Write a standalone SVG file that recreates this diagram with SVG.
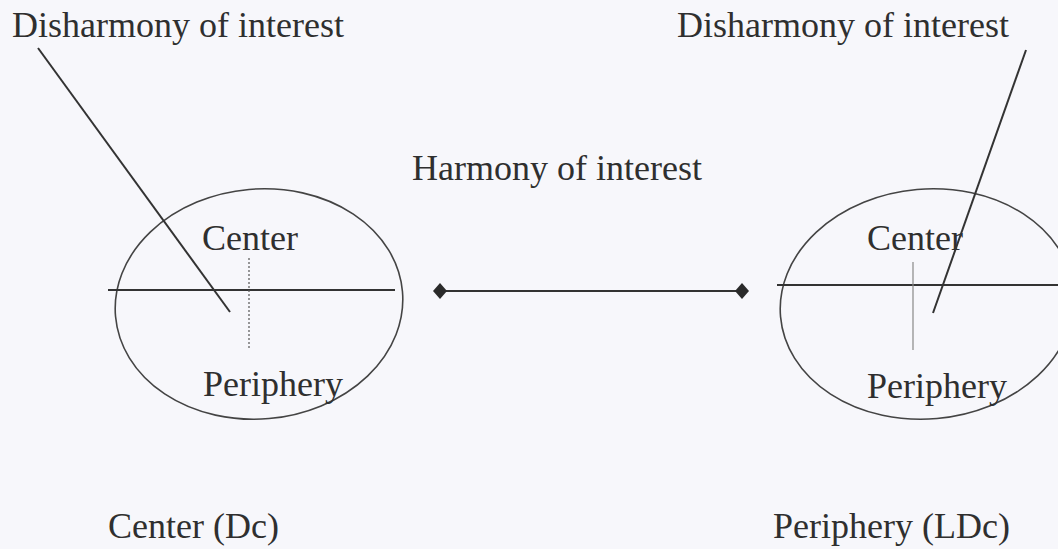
<svg xmlns="http://www.w3.org/2000/svg" width="1058" height="549" viewBox="0 0 1058 549">
<style>
.t{font-family:"Liberation Serif","Times New Roman",serif;font-size:36px;fill:#2f2f2f}
.l{stroke:#333;stroke-width:2;fill:none}
.e{stroke:#444;stroke-width:1.6;fill:none}
</style>
<defs>
<marker id="dm" markerWidth="16" markerHeight="18" refX="8" refY="9" markerUnits="userSpaceOnUse" orient="auto">
<path d="M8,1 L15,9 L8,17 L1,9 Z" fill="#2a2a2a"/>
</marker>
</defs>
<rect width="1058" height="549" fill="#f7f7fb"/>
<g id="left-node">
<ellipse class="e" cx="259" cy="304" rx="144" ry="115" transform="rotate(-5 259 304)"/>
<line class="l" x1="108" y1="290" x2="395" y2="290" stroke-width="1.6"/>
<line x1="249" y1="258" x2="249" y2="348" stroke="#555" stroke-width="1.2" stroke-dasharray="2,2"/>
<text class="t" x="202" y="250">Center</text>
<text class="t" x="203" y="396">Periphery</text>
<text class="t" x="108" y="538">Center (Dc)</text>
</g>
<g id="right-node">
<ellipse class="e" cx="927" cy="304" rx="147" ry="115" transform="rotate(-5 927 304)"/>
<line class="l" x1="777" y1="285" x2="1058" y2="285" stroke-width="1.6"/>
<line x1="913" y1="262" x2="913" y2="350" stroke="#888" stroke-width="1.2"/>
<text class="t" x="867" y="250">Center</text>
<text class="t" x="867" y="398">Periphery</text>
<text class="t" x="773" y="538">Periphery (LDc)</text>
</g>
<g id="labels">
<text class="t" x="12" y="37">Disharmony of interest</text>
<text class="t" x="677" y="37">Disharmony of interest</text>
<text class="t" x="412" y="180">Harmony of interest</text>
</g>
<g id="connectors">
<line class="l" x1="38" y1="48" x2="230" y2="312"/>
<line class="l" x1="1026" y1="50" x2="933" y2="313"/>
<line class="l" x1="440" y1="291" x2="742" y2="291" marker-start="url(#dm)" marker-end="url(#dm)"/>
</g>
</svg>
